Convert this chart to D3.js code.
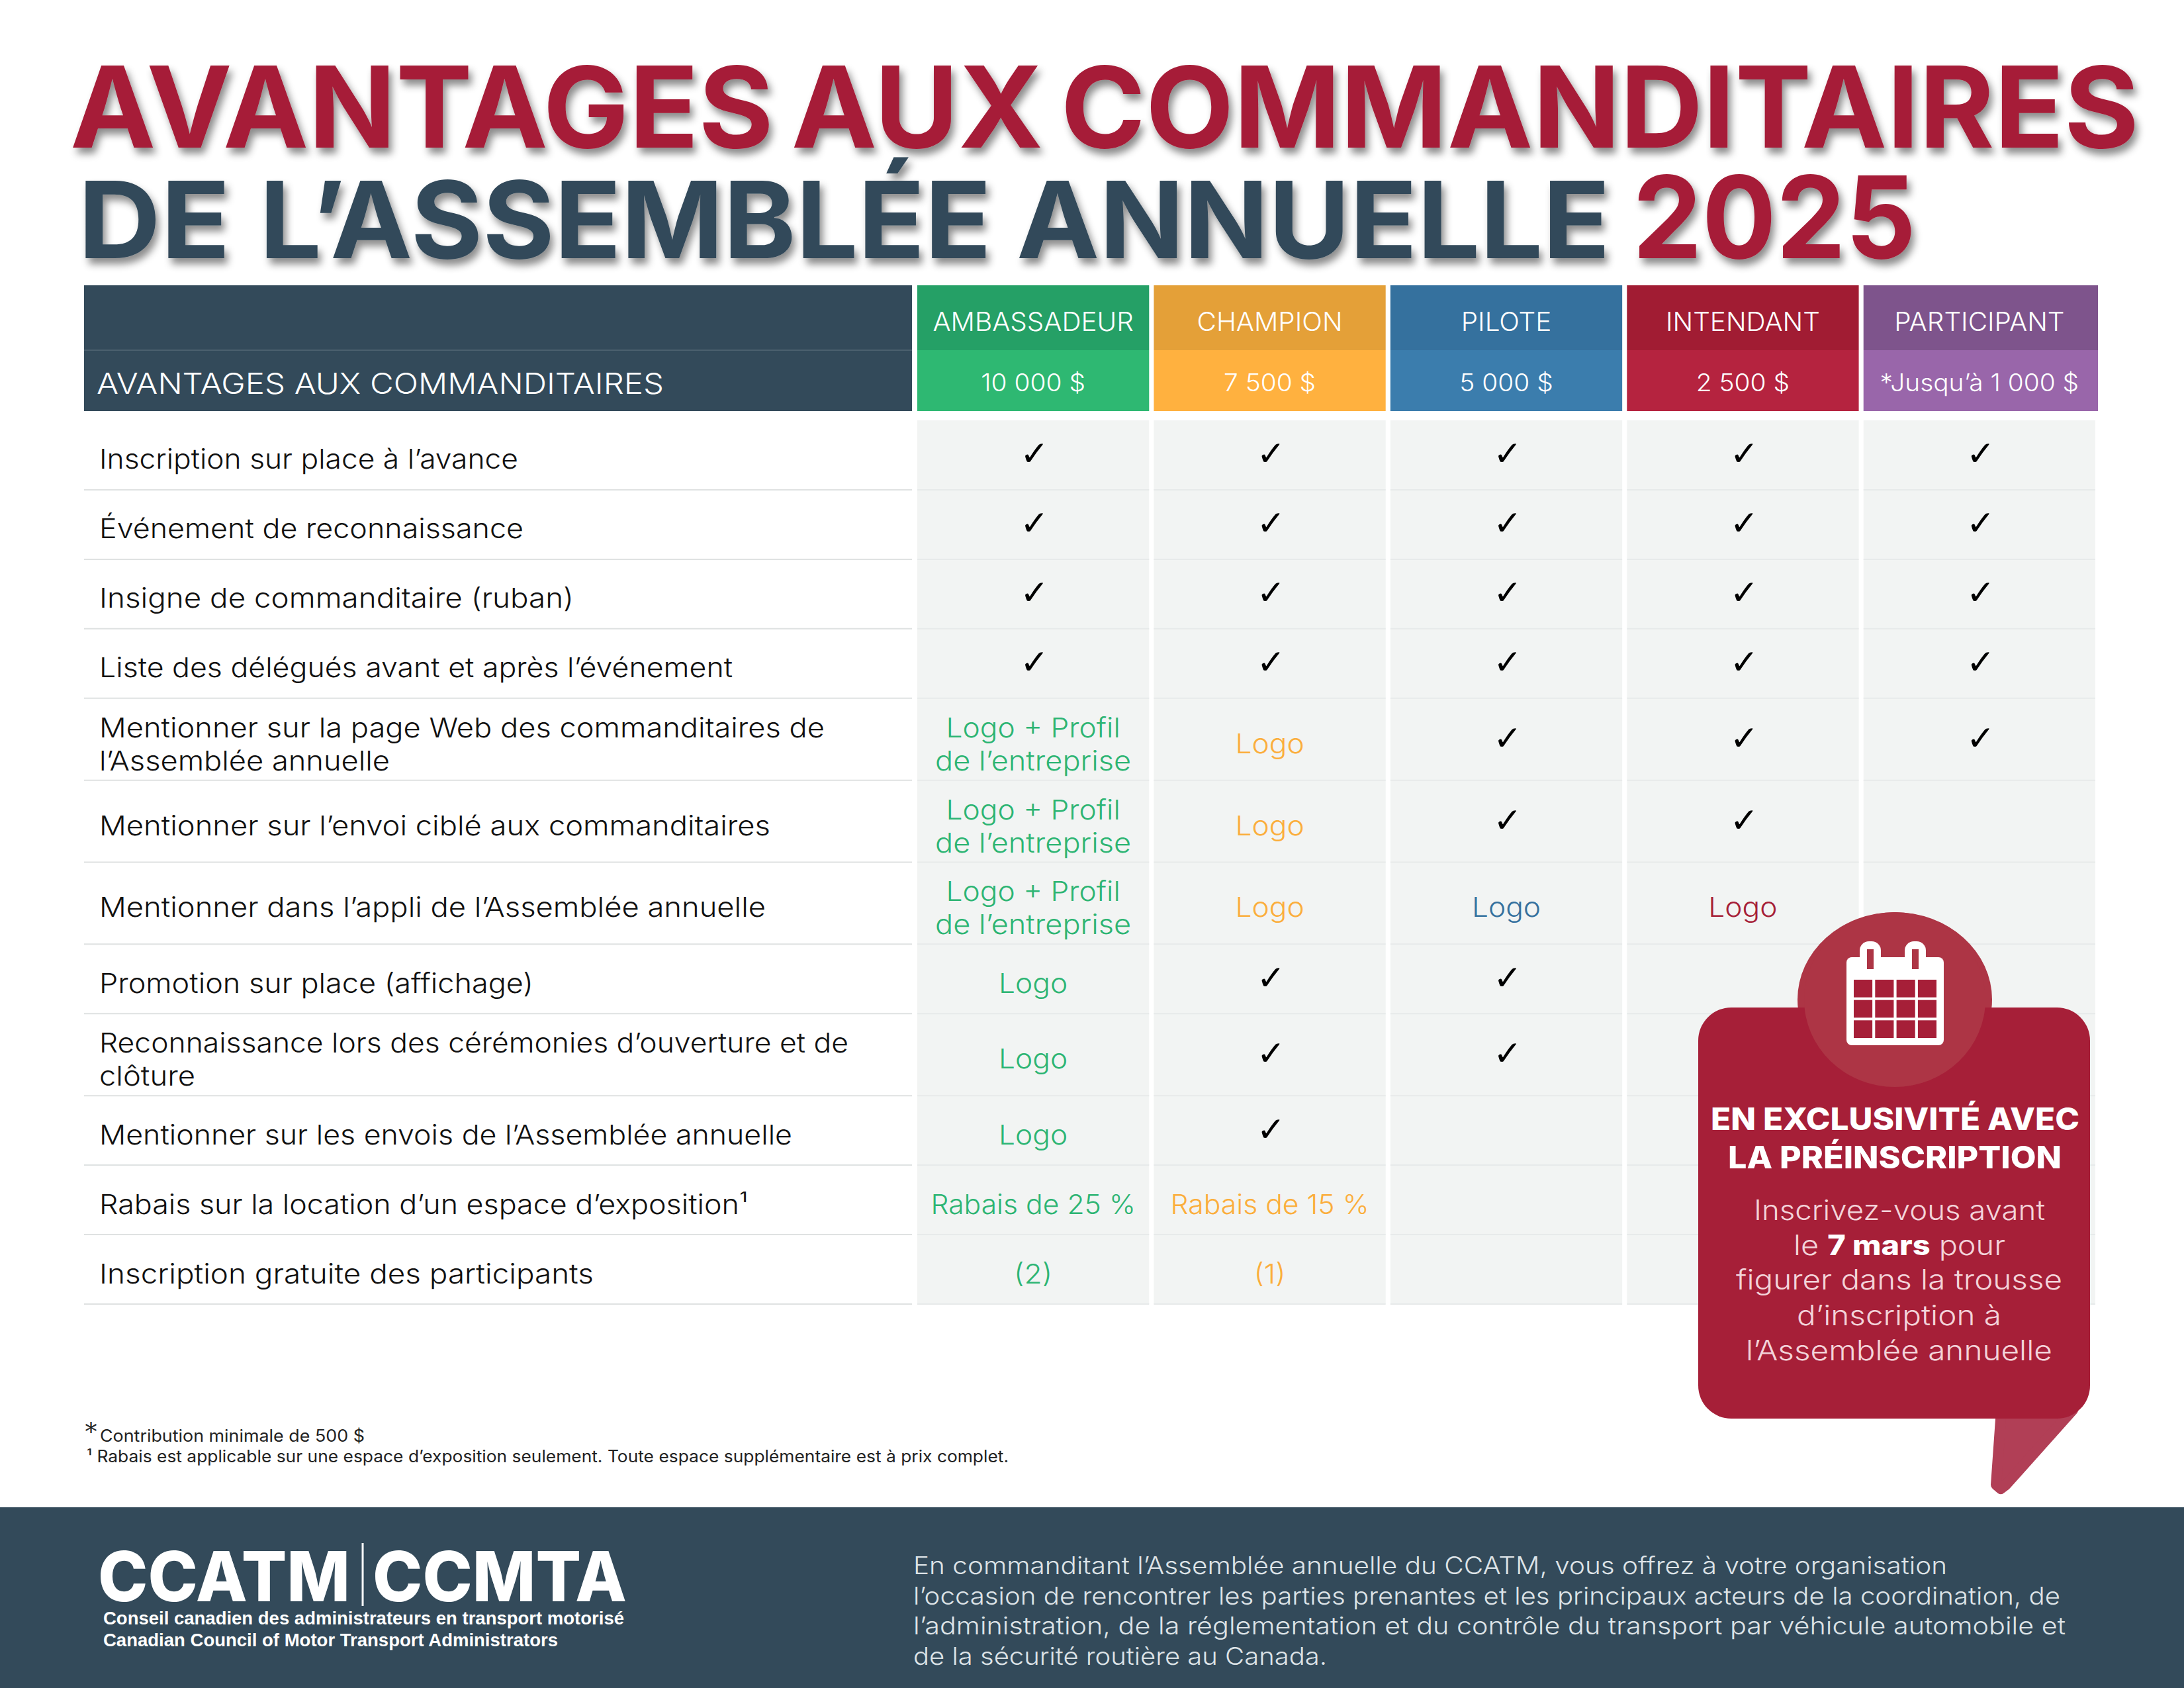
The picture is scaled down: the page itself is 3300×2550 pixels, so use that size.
<!DOCTYPE html>
<html>
<head>
<meta charset="utf-8">
<script src="https://cdn.jsdelivr.net/npm/d3@7/dist/d3.min.js"></script>
<style>
html, body { margin: 0; padding: 0; background: #fff; }
svg { display: block; }
text { font-family: Inter, "Noto Sans", sans-serif; }
</style>
</head>
<body>
<svg id="chart" width="3300" height="2550"></svg>
<script>
var tiers = ['AMBASSADEUR', 'CHAMPION', 'PILOTE', 'INTENDANT', 'PARTICIPANT'];
var prices = ['10 000 $', '7 500 $', '5 000 $', '2 500 $', '*Jusqu’à 1 000 $'];
var tierTop = ['#25A066', '#E4A038', '#35719E', '#A11C33', '#7E548C'];
var tierBottom = ['#2EB872', '#FFB13F', '#3B7DAD', '#B5233F', '#9966AA'];
var tierInk = ['#2DB573', '#FBAE3C', '#35719E', '#A61F38', '#7E548C'];

var benefits = [
    ['Inscription sur place à l’avance'],
    ['Événement de reconnaissance'],
    ['Insigne de commanditaire (ruban)'],
    ['Liste des délégués avant et après l’événement'],
    ['Mentionner sur la page Web des commanditaires de', 'l’Assemblée annuelle'],
    ['Mentionner sur l’envoi ciblé aux commanditaires'],
    ['Mentionner dans l’appli de l’Assemblée annuelle'],
    ['Promotion sur place (affichage)'],
    ['Reconnaissance lors des cérémonies d’ouverture et de', 'clôture'],
    ['Mentionner sur les envois de l’Assemblée annuelle'],
    ['Rabais sur la location d’un espace d’exposition¹'],
    ['Inscription gratuite des participants']
];
var rowUnits = [1, 1, 1, 1, 1.18, 1.18, 1.18, 1, 1.18, 1, 1, 1];
// run widths of the labels as measured on the reference
var benefitWidths = [[633], [641], [717], [957], [1096, 439], [1014], [1007], [656], [1132, 145], [1047], [980], [747]];

var CK = '✓';
var LP = 'Logo + Profil|de l’entreprise';
var ambassadeur = [CK, CK, CK, CK, LP, LP, LP, 'Logo', 'Logo', 'Logo', 'Rabais de 25 %', '(2)'];
var champion = [CK, CK, CK, CK, 'Logo', 'Logo', 'Logo', CK, CK, CK, 'Rabais de 15 %', '(1)'];
var pilote = [CK, CK, CK, CK, CK, CK, 'Logo', CK, CK, '', '', ''];
var intendant = [CK, CK, CK, CK, CK, CK, 'Logo', '', '', '', '', ''];
var participant = [CK, CK, CK, CK, CK, '', '', '', '', '', '', ''];
var tierValues = [ambassadeur, champion, pilote, intendant, participant];

var footnotes = ['Contribution minimale de 500 $', '¹ Rabais est applicable sur une espace d’exposition seulement. Toute espace supplémentaire est à prix complet.'];
var aboutLines = [
    'En commanditant l’Assemblée annuelle du CCATM, vous offrez à votre organisation',
    'l’occasion de rencontrer les parties prenantes et les principaux acteurs de la coordination, de',
    'l’administration, de la réglementation et du contrôle du transport par véhicule automobile et',
    'de la sécurité routière au Canada.'
];

var DARK = '#334A5A', RED = '#A61F38';
var svg = d3.select('#chart');

// text at a baseline; width squeezes the run to the width measured on the reference
function put(str, x, y, size, weight, fill, width, anchor) {
    var t = svg.append('text')
        .attr('x', x).attr('y', y)
        .attr('font-size', size).attr('font-weight', weight)
        .attr('fill', fill)
        .attr('text-anchor', anchor || 'start')
        .text(str);
    if (width) t.attr('textLength', width).attr('lengthAdjust', 'spacingAndGlyphs');
    return t;
}

// same, but widened by a factor (the reference face runs wider than Inter)
function wide(str, x, y, size, weight, fill, factor, anchor) {
    var t = put(str, x, y, size, weight, fill, null, anchor);
    t.attr('textLength', t.node().getComputedTextLength() * factor).attr('lengthAdjust', 'spacingAndGlyphs');
    return t;
}

// title
var shadow = svg.append('defs').append('filter').attr('id', 'shadow')
    .attr('x', '-5%').attr('y', '-20%').attr('width', '110%').attr('height', '150%');
shadow.append('feDropShadow').attr('dx', 5).attr('dy', 9).attr('stdDeviation', 6)
    .attr('flood-color', '#000').attr('flood-opacity', 0.45);

put('AVANTAGES AUX COMMANDITAIRES', 106, 223, 170, 700, RED, 3126).attr('word-spacing', -14).attr('filter', 'url(#shadow)');
put('DE', 118, 390, 161, 700, DARK, 230).attr('filter', 'url(#shadow)');
put('L’ASSEMBLÉE', 392, 390, 161, 700, DARK, 1106).attr('filter', 'url(#shadow)');
put('ANNUELLE', 1536, 390, 161, 700, DARK, 897).attr('filter', 'url(#shadow)');
put('2025', 2467, 390, 172, 700, RED, 428).attr('filter', 'url(#shadow)');

// table scales
var x = d3.scaleBand().domain(tiers).range([1386, 3166]).paddingInner(0.02);
var edges = [0].concat(Array.from(d3.cumsum(rowUnits)));
var y = d3.scaleLinear().domain([0, d3.sum(rowUnits)]).range([635, 1970]);

// last header column runs a little past the body
function headerWidth(d, i) { return i == 4 ? x.bandwidth() + 4 : x.bandwidth(); }

// header
svg.append('rect').attr('x', 127).attr('y', 431).attr('width', 1251).attr('height', 190).attr('fill', DARK);
svg.selectAll('.tier-top').data(tiers).enter().append('rect')
    .attr('class', 'tier-top')
    .attr('x', function(d) { return x(d); }).attr('y', 431)
    .attr('width', headerWidth).attr('height', 98)
    .attr('fill', function(d, i) { return tierTop[i]; });
svg.selectAll('.tier-bottom').data(tiers).enter().append('rect')
    .attr('class', 'tier-bottom')
    .attr('x', function(d) { return x(d); }).attr('y', 529)
    .attr('width', headerWidth).attr('height', 92)
    .attr('fill', function(d, i) { return tierBottom[i]; });
svg.append('line').attr('x1', 127).attr('x2', 1378).attr('y1', 529).attr('y2', 529)
    .attr('stroke', '#fff').attr('stroke-opacity', 0.12).attr('stroke-width', 2);

put('AVANTAGES AUX COMMANDITAIRES', 146, 595, 44, 300, '#fff', 857);
tiers.forEach(function(t, i) {
    wide(t, x(t) + x.bandwidth() / 2, 500, 39, 300, '#fff', 1.035, 'middle');
    wide(prices[i], x(t) + x.bandwidth() / 2, 591, 37, 300, '#fff', 1.05, 'middle');
});

// body columns
svg.selectAll('.tier-col').data(tiers).enter().append('rect')
    .attr('class', 'tier-col')
    .attr('x', function(d) { return x(d); }).attr('y', y(0))
    .attr('width', x.bandwidth()).attr('height', y.range()[1] - y(0))
    .attr('fill', '#F2F4F3');

// row rules and labels
benefits.forEach(function(lines, r) {
    var bottom = y(edges[r + 1]), mid = (y(edges[r]) + bottom) / 2;
    svg.append('line').attr('x1', 127).attr('x2', 1378).attr('y1', bottom).attr('y2', bottom)
        .attr('stroke', '#DFE2E2').attr('stroke-width', 2);
    tiers.forEach(function(t) {
        svg.append('line').attr('x1', x(t)).attr('x2', x(t) + x.bandwidth()).attr('y1', bottom).attr('y2', bottom)
            .attr('stroke', '#E7EAEA').attr('stroke-width', 2);
    });
    lines.forEach(function(s, k) {
        var base = lines.length == 1 ? mid + 21 : mid - 3 + k * 50;
        put(s, 150, base, 41, 300, '#111', benefitWidths[r][k]);
    });
    tierValues.forEach(function(col, c) {
        var v = col[r], cx = x(tiers[c]) + x.bandwidth() / 2;
        if (!v) return;
        if (v == CK) {
            put(v, cx + 2, mid + 16, 52, 400, '#000', null, 'middle').style('font-family', '"DejaVu Sans"');
        } else if (v.indexOf('|') > 0) {
            v.split('|').forEach(function(s, k) {
                wide(s, cx, mid - 3 + k * 50, 41, 300, tierInk[c], k ? 1.1 : 1.08, 'middle');
            });
        } else {
            wide(v, cx, mid + 21, 41, 300, tierInk[c], v.length > 8 ? 1.04 : 1.08, 'middle');
        }
    });
});

// footnotes
put('*', 128, 2176, 38, 400, '#222').style('font-family', '"DejaVu Sans"');
put(footnotes[0], 151, 2178, 25, 400, '#222', 400);
put(footnotes[1], 131, 2209, 25, 400, '#222', 1393);

// callout
svg.append('path')
    .attr('d', d3.line().curve(d3.curveLinearClosed)([[3024, 2130], [3132, 2130], [3031, 2243], [3023, 2249], [3016, 2243]]))
    .attr('fill', '#B13F56').attr('stroke', '#B13F56').attr('stroke-width', 16).attr('stroke-linejoin', 'round');
svg.append('ellipse').attr('cx', 2863).attr('cy', 1510).attr('rx', 147).attr('ry', 132).attr('fill', '#AD3545');
svg.append('path')
    .attr('fill', RED)
    .attr('d', 'M2616 1522H3108A50 50 0 0 1 3158 1572V2093A50 50 0 0 1 3108 2143H2616A50 50 0 0 1 2566 2093V1572A50 50 0 0 1 2616 1522Z');
svg.append('ellipse').attr('cx', 2863).attr('cy', 1510).attr('rx', 137).attr('ry', 132).attr('fill', '#AD3545');

// calendar icon
var calCols = d3.scaleBand().domain(d3.range(4)).range([2801, 2926]).paddingInner(0.13);
var calRows = d3.scaleBand().domain(d3.range(3)).range([1480, 1568]).paddingInner(0.13);
svg.append('rect').attr('x', 2790).attr('y', 1446).attr('width', 147).attr('height', 133).attr('rx', 8).attr('fill', '#fff');
[2826, 2894].forEach(function(cx) {
    svg.append('rect').attr('x', cx - 16).attr('y', 1422).attr('width', 32).attr('height', 42).attr('rx', 14).attr('fill', '#fff');
    svg.append('rect').attr('x', cx - 5).attr('y', 1434).attr('width', 10).attr('height', 30).attr('fill', '#AD3545');
});
d3.range(3).forEach(function(r) {
    d3.range(4).forEach(function(c) {
        svg.append('rect').attr('x', calCols(c)).attr('y', calRows(r))
            .attr('width', calCols.bandwidth()).attr('height', calRows.bandwidth()).attr('fill', RED);
    });
});

put('EN EXCLUSIVITÉ AVEC', 2585, 1707, 46, 800, '#fff', 557);
put('LA PRÉINSCRIPTION', 2611, 1765, 46, 800, '#fff', 504);
var PINK = '#F3D3D9';
put('Inscrivez-vous avant', 2650, 1843, 42, 300, PINK, 440);
var le = put('', 2710, 1896, 42, 300, PINK, 320);
le.append('tspan').text('le ');
le.append('tspan').attr('fill', '#fff').attr('font-weight', 800).text('7 mars');
le.append('tspan').text(' pour');
put('figurer dans la trousse', 2623, 1948, 42, 300, PINK, 493);
put('d’inscription à', 2715, 2002, 42, 300, PINK, 309);
put('l’Assemblée annuelle', 2638, 2055, 42, 300, PINK, 463);

// footer
svg.append('rect').attr('x', 0).attr('y', 2277).attr('width', 3300).attr('height', 273).attr('fill', DARK);
put('CCATM', 148, 2419, 104, 800, '#fff', 381);
svg.append('line').attr('x1', 548).attr('x2', 548).attr('y1', 2331).attr('y2', 2426).attr('stroke', '#fff').attr('stroke-width', 3);
put('CCMTA', 563, 2419, 104, 800, '#fff', 384);
put('Conseil canadien des administrateurs en transport motorisé', 156, 2454, 27, 700, '#fff', 787).style('font-family', '"Liberation Sans"');
put('Canadian Council of Motor Transport Administrators', 156, 2487, 27, 700, '#fff', 687).style('font-family', '"Liberation Sans"');

var aboutWidths = [1562, 1733, 1741, 625];
aboutLines.forEach(function(s, i) {
    put(s, 1380, [2378, 2424, 2469, 2515][i], 37, 300, '#DDE3E7', aboutWidths[i]);
});
</script>
</body>
</html>
